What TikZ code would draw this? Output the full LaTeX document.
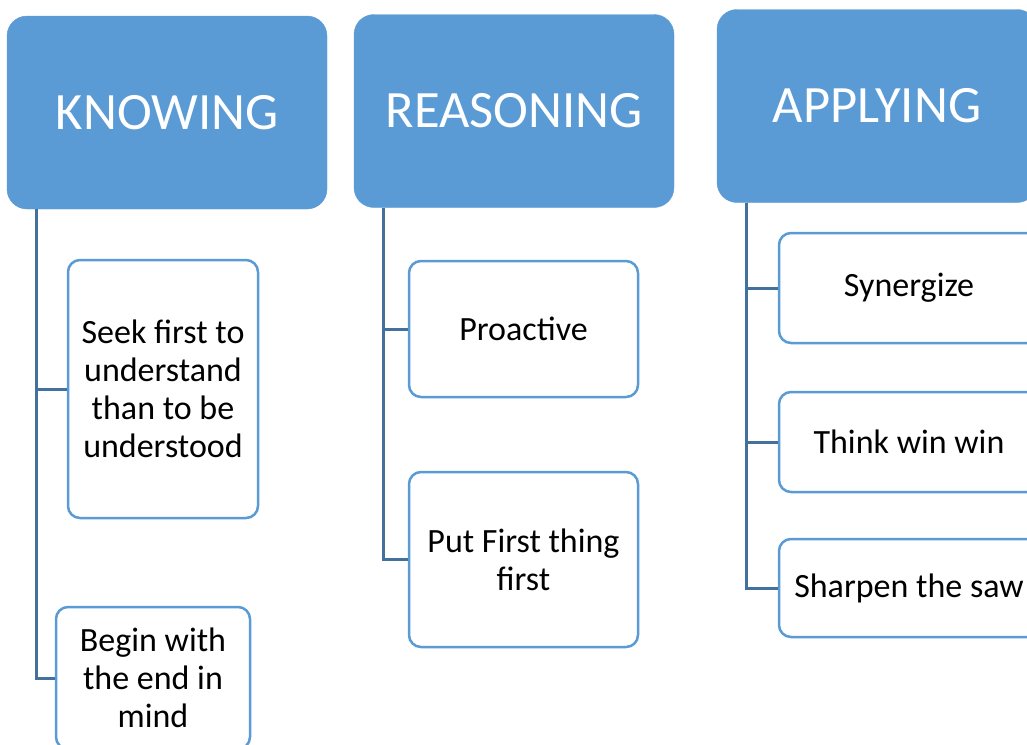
\documentclass[tikz,border=0pt]{standalone}
\usepackage{fontspec}
\setmainfont{Carlito}
\definecolor{hdblue}{HTML}{5B9BD5}
\definecolor{lnblue}{HTML}{41719C}
\tikzset{
  head/.style={draw=hdblue, fill=hdblue, rounded corners=20pt, text=white,
    minimum width=320pt, minimum height=193pt, inner sep=0pt,
    font=\fontsize{52.5}{63}\selectfont},
  item/.style={draw=hdblue, line width=2.5pt, fill=white, rounded corners=12pt,
    inner sep=0pt, align=center, font=\fontsize{34}{38}\selectfont},
  conn/.style={draw=lnblue, line width=3pt}
}
\begin{document}
\begin{tikzpicture}[x=1pt,y=-1pt]
\useasboundingbox (0,0) rectangle (1027,744);
\clip (0,0) rectangle (1027,744);
\node[head] (kn) at (167,112.5) {KNOWING};
\node[head] (re) at (514,111) {REASONING};
\node[head] (ap) at (877,106) {APPLYING};

\node[item, minimum width=190pt, minimum height=258pt] (k1) at (163,389) {Seek first to\\understand\\than to be\\understood};
\node[item, minimum width=194pt, minimum height=142pt] (k2) at (153,678) {Begin with\\the end in\\mind};
\node[item, minimum width=229pt, minimum height=136pt] (r1) at (523.5,329) {Proactive};
\node[item, minimum width=229pt, minimum height=175pt] (r2) at (523.5,559.5) {Put First thing\\first};
\node[item, minimum width=260pt, minimum height=110pt] (a1) at (909,288) {Synergize};
\node[item, minimum width=260pt, minimum height=100pt] (a2) at (909,442) {Think win win};
\node[item, minimum width=260pt, minimum height=98pt] (a3) at (909,588) {Sharpen the saw};

\path[conn] ([xshift=30pt]kn.south west) |- (k1.west);
\path[conn] ([xshift=30pt]kn.south west) |- (k2.west);
\path[conn] ([xshift=30pt]re.south west) |- (r1.west);
\path[conn] ([xshift=30pt]re.south west) |- (r2.west);
\path[conn] ([xshift=30pt]ap.south west) |- (a1.west);
\path[conn] ([xshift=30pt]ap.south west) |- (a2.west);
\path[conn] ([xshift=30pt]ap.south west) |- (a3.west);
\end{tikzpicture}
\end{document}
